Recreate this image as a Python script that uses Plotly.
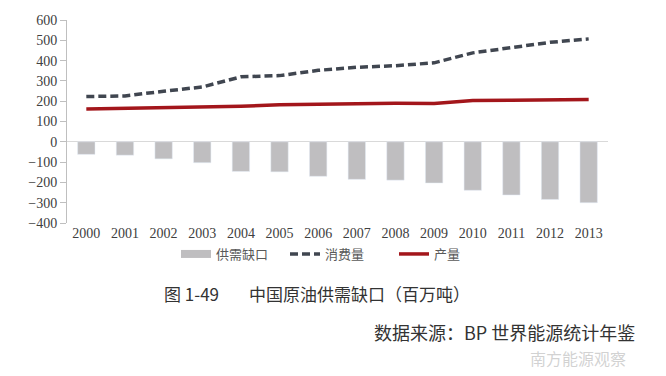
import plotly.graph_objects as go

years = [str(y) for y in range(2000, 2014)]
gap = [-62, -66, -84, -103, -146, -148, -170, -185, -189, -203, -239, -262, -284, -300]
consumption = [223, 226, 249, 270, 320, 326, 352, 367, 375, 389, 438, 462, 490, 507]
production = [162, 165, 167, 170, 175, 182, 185, 189, 190, 189, 203, 205, 208, 208]
yticks = [-400, -300, -200, -100, 0, 100, 200, 300, 400, 500, 600]

CJK = "Noto Sans CJK SC"
SERIF = "Liberation Serif"

fig = go.Figure()
fig.add_trace(go.Bar(x=years, y=gap, name="供需缺口", marker_color="#BFBEC0",
                     width=0.45, showlegend=False))
# legend proxy for bar (wide rectangle like original)
fig.add_trace(go.Scatter(x=[None], y=[None], mode="lines", name="供需缺口",
                         line=dict(color="#BFBEC0", width=8)))
fig.add_trace(go.Scatter(x=years, y=consumption, mode="lines", name="消费量",
                         line=dict(color="#404650", width=3.5, dash="8px,4px")))
fig.add_trace(go.Scatter(x=years, y=production, mode="lines", name="产量",
                         line=dict(color="#A3161B", width=3.5)))

PH = 203.0
PW = 541.0

fig.update_layout(
    width=666, height=376,
    margin=dict(l=67, r=58, t=20, b=153, autoexpand=False),
    paper_bgcolor="white", plot_bgcolor="white",
    showlegend=True,
    legend=dict(orientation="h", x=(176 - 67) / PW, xanchor="left",
                y=-(16) / PH, yanchor="top",
                font=dict(family=CJK, size=13, color="#595959"),
                itemwidth=30, entrywidth=64, tracegroupgap=0,
                bgcolor="rgba(0,0,0,0)"),
    xaxis=dict(type="category", showline=False, ticks="", showgrid=False,
               automargin=False,
               tickfont=dict(family=SERIF, size=14, color="#404040"),
               tickangle=0),
    yaxis=dict(range=[-400, 600], tickvals=yticks, showgrid=False,
               automargin=False,
               showline=True, linecolor="#BFBFBF", linewidth=1,
               ticks="outside", ticklen=6, tickcolor="#BFBFBF",
               zeroline=True, zerolinecolor="#D9D9D9", zerolinewidth=1,
               tickfont=dict(family=SERIF, size=14, color="#404040")),
    bargap=0.55,
    annotations=[
        dict(text="图 1-49", xref="paper", yref="paper",
             x=(162 - 67) / PW, y=(223 - 293) / PH,
             xanchor="left", yanchor="middle", showarrow=False,
             font=dict(family=CJK, size=17, color="#333333")),
        dict(text="中国原油供需缺口（百万吨）", xref="paper", yref="paper",
             x=(247 - 67) / PW, y=(223 - 293) / PH,
             xanchor="left", yanchor="middle", showarrow=False,
             font=dict(family=CJK, size=17, color="#333333")),
        dict(text="数据来源：BP 世界能源统计年鉴",
             xref="paper", yref="paper", x=(372 - 67) / PW, y=(223 - 332) / PH,
             xanchor="left", yanchor="middle", showarrow=False,
             font=dict(family=CJK, size=18, color="#333333")),
        dict(text="南方能源观察",
             xref="paper", yref="paper", x=(528 - 67) / PW, y=(223 - 358) / PH,
             xanchor="left", yanchor="middle", showarrow=False,
             font=dict(family=CJK, size=16, color="rgba(180,180,180,0.6)")),
    ],
)

fig.write_html("out.html", config={"displayModeBar": False},
               post_script="document.body.style.margin='0';document.body.style.padding='0';")
